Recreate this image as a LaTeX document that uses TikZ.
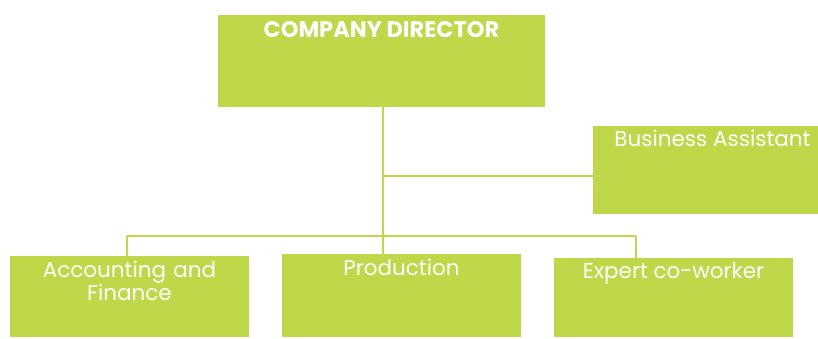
\documentclass[tikz,border=0pt]{standalone}
\usepackage{fontspec}
\setmainfont{Poppins}
\definecolor{lime}{RGB}{191,216,74}
\begin{document}
\begin{tikzpicture}[x=1pt,y=1pt,
  box/.style={fill=lime, inner sep=0pt},
  boxtext/.style={anchor=north, text=white, inner sep=0pt, font=\fontsize{21.5}{22}\selectfont, align=center},
  wire/.style={draw=lime, line width=2.5pt}]
\useasboundingbox (0,0) rectangle (818,338);
\node[box, minimum width=327, minimum height=92, label={[boxtext, font=\bfseries\fontsize{22.5}{25}\selectfont, yshift=-6]north:COMPANY DIRECTOR}] (dir) at (381.5,277) {};
\node[box, minimum width=225, minimum height=88, label={[boxtext, yshift=-4, xshift=7]north:Business Assistant}] (asst) at (705.5,168) {};
\node[box, minimum width=239, minimum height=81, label={[boxtext, yshift=-5, text width=220]north:Accounting and\\Finance}] (acc) at (129.5,41.5) {};
\node[box, minimum width=239, minimum height=83, label={[boxtext, yshift=-5]north:Production}] (prod) at (401.5,42.5) {};
\node[box, minimum width=239, minimum height=79, label={[boxtext, yshift=-5]north:Expert co-worker}] (exp) at (673.5,40.5) {};
\coordinate (top) at (383,231);
\coordinate (mid) at (383,162);
\coordinate (busL) at (127,102);
\coordinate (busM) at (383,102);
\coordinate (busR) at (636,102);
% trunk and side branch
\draw[wire] (top) -- (busM);
\draw[wire] (mid) -- (mid -| asst.west);
% bus to the three departments
\draw[wire] (busL) -- (busR);
\draw[wire] (busL) -- (busL |- acc.north);
\draw[wire] (busM) -- (busM |- prod.north);
\draw[wire] (busR) -- (busR |- exp.north);
\end{tikzpicture}
\end{document}
